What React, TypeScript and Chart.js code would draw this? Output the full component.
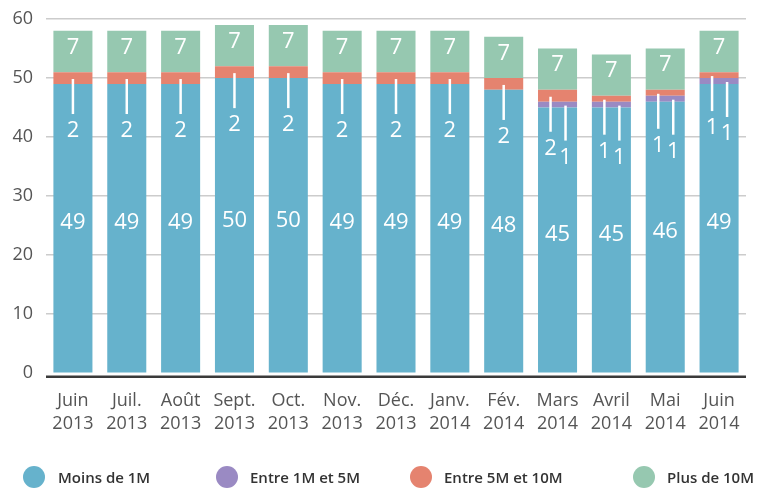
import React, { useEffect, useRef } from "react";
import { Chart, registerables } from "chart.js";
Chart.register(...registerables);

const categories: string[][] = [
  ["Juin", "2013"], ["Juil.", "2013"], ["Août", "2013"], ["Sept.", "2013"], ["Oct.", "2013"],
  ["Nov.", "2013"], ["Déc.", "2013"], ["Janv.", "2014"], ["Fév.", "2014"], ["Mars", "2014"],
  ["Avril", "2014"], ["Mai", "2014"], ["Juin", "2014"],
];
const moinsDe1M = [49, 49, 49, 50, 50, 49, 49, 49, 48, 45, 45, 46, 49];
const entre1Met5M = [0, 0, 0, 0, 0, 0, 0, 0, 0, 1, 1, 1, 1];
const entre5Met10M = [2, 2, 2, 2, 2, 2, 2, 2, 2, 2, 1, 1, 1];
const plusDe10M = [7, 7, 7, 7, 7, 7, 7, 7, 7, 7, 7, 7, 7];
const yMin = 0;
const yMax = 60;
const yStep = 10;
const seriesNames = ["Moins de 1M", "Entre 1M et 5M", "Entre 5M et 10M", "Plus de 10M"];
const seriesColors = ["#66b2cc", "#9a8ac3", "#e5836f", "#96c8b0"];
const seriesValues = [moinsDe1M, entre1Met5M, entre5Met10M, plusDe10M];

const FONT = "'Open Sans', 'DejaVu Sans', sans-serif";

const labelPlugin = {
  id: "segLabels",
  afterDatasetsDraw(chart: any) {
    const ctx = chart.ctx as CanvasRenderingContext2D;
    const metas = [0, 1, 2, 3].map((i) => chart.getDatasetMeta(i));
    ctx.save();
    ctx.fillStyle = "#ffffff";
    ctx.strokeStyle = "#ffffff";
    ctx.textAlign = "center";
    ctx.textBaseline = "middle";
    ctx.font = `22px ${FONT}`;
    ctx.lineWidth = 2.5;
    for (let j = 0; j < categories.length; j++) {
      const b = metas[0].data[j];
      ctx.fillText(String(moinsDe1M[j]), b.x, (b.y + b.base) / 2 - 5);
      const g = metas[3].data[j];
      ctx.fillText(String(plusDe10M[j]), g.x, (g.y + g.base) / 2 - 4);
      const hasPurple = entre1Met5M[j] > 0;
      const smalls: [number, number, number][] = [
        [2, entre5Met10M[j], hasPurple ? -7 : 0],
        [1, entre1Met5M[j], 8],
      ];
      for (const [di, v, dx] of smalls) {
        if (v <= 0) continue;
        const el = metas[di].data[j];
        const cy = (el.y + el.base) / 2 + 1;
        const x = el.x + dx;
        ctx.beginPath();
        ctx.moveTo(x, cy);
        ctx.lineTo(x, cy + 35);
        ctx.stroke();
        ctx.fillText(String(v), x, cy + 35 + 17);
      }
    }
    ctx.restore();
  },
};

const axisLegendPlugin = {
  id: "axisLegend",
  afterDraw(chart: any) {
    const ctx = chart.ctx as CanvasRenderingContext2D;
    const a = chart.chartArea;
    ctx.save();
    ctx.strokeStyle = "#3a3a3a";
    ctx.lineWidth = 2.5;
    ctx.beginPath();
    ctx.moveTo(a.left, a.bottom + 3.5);
    ctx.lineTo(a.right, a.bottom + 3.5);
    ctx.stroke();

    const circleX = [34, 227, 421, 644];
    const textX = [58, 250, 444, 667];
    const ly = 477;
    ctx.textAlign = "left";
    ctx.textBaseline = "middle";
    ctx.font = `600 15px ${FONT}`;
    for (let i = 0; i < seriesNames.length; i++) {
      ctx.fillStyle = seriesColors[i];
      ctx.beginPath();
      ctx.ellipse(circleX[i], ly, 11, 11, 0, 0, Math.PI * 2);
      ctx.fill();
      ctx.fillStyle = "#333333";
      ctx.fillText(seriesNames[i], textX[i], ly + 2);
    }
    ctx.restore();
  },
};

export default function App() {
  const ref = useRef<HTMLCanvasElement>(null);
  useEffect(() => {
    const chart = new Chart(ref.current!, {
      type: "bar",
      data: {
        labels: categories,
        datasets: seriesNames.map((name, i) => ({
          label: name,
          data: seriesValues[i],
          backgroundColor: seriesColors[i],
          borderWidth: 0,
          barPercentage: 0.725,
          categoryPercentage: 1,
        })),
      },
      options: {
        animation: false,
        responsive: false,
        layout: { padding: { top: 19, right: 19, bottom: 44, left: 0 } },
        plugins: { legend: { display: false }, tooltip: { enabled: false } },
        scales: {
          x: {
            stacked: true,
            grid: { display: false },
            border: { display: false },
            ticks: {
              color: "#555555",
              font: { family: FONT, size: 18, lineHeight: 1.3 },
              padding: 8,
              maxRotation: 0,
              autoSkip: false,
            },
            afterFit: (s: any) => {
              s.paddingLeft = 0;
              s.paddingRight = 0;
            },
          },
          y: {
            stacked: true,
            min: yMin,
            max: yMax,
            border: { display: false },
            grid: {
              color: (c: any) => (c.tick && c.tick.value === 0 ? "rgba(0,0,0,0)" : "#cccccc"),
              drawTicks: false,
              lineWidth: 1.5,
            },
            ticks: {
              stepSize: yStep,
              color: "#555555",
              font: { family: FONT, size: 18 },
              padding: 13,
            },
            afterFit: (s: any) => {
              s.width = 46;
              s.paddingTop = 0;
              s.paddingBottom = 0;
            },
          },
        },
      },
      plugins: [labelPlugin, axisLegendPlugin],
    });
    return () => chart.destroy();
  }, []);
  return (
    <div style={{ position: "absolute", left: 0, top: 0, width: 765, height: 488, background: "#fff" }}>
      <canvas ref={ref} width={765} height={488} />
    </div>
  );
}
